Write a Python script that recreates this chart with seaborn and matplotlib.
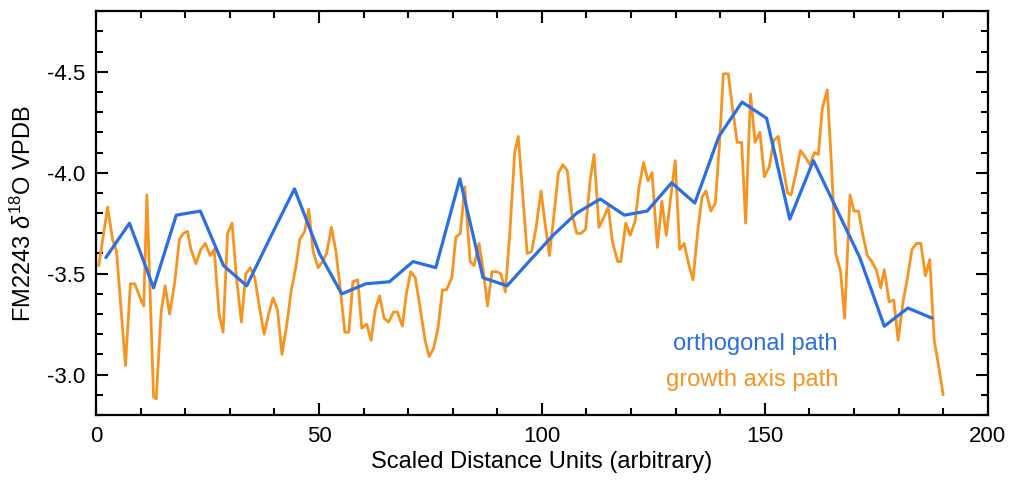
import numpy as np
import pandas as pd
import matplotlib
matplotlib.use("Agg")
import matplotlib.pyplot as plt
from matplotlib.ticker import MultipleLocator
import seaborn as sns

# Orthogonal transect (coarse sampling)
ortho_x = [2.2, 7.5, 12.9, 18.0, 23.4, 28.6, 33.8, 39.1, 44.5, 50.1, 55.1, 60.5,
           65.8, 71.1, 76.2, 81.6, 86.8, 92.2, 97.3, 102.5, 107.8, 113.1, 118.5,
           123.6, 129.1, 134.3, 139.7, 144.9, 150.4, 155.6, 160.9, 166.1, 171.3,
           176.8, 182.1, 187.5]
ortho_d18o = [-3.58, -3.75, -3.43, -3.79, -3.81, -3.54, -3.44, -3.68, -3.92, -3.60,
              -3.40, -3.45, -3.46, -3.56, -3.53, -3.97, -3.48, -3.44, -3.565, -3.69,
              -3.80, -3.87, -3.79, -3.81, -3.95, -3.85, -4.18, -4.35, -4.27, -3.77,
              -4.06, -3.82, -3.58, -3.24, -3.33, -3.28]

# Growth-axis transect (fine sampling)
growth_x = [0.6, 2.6, 3.7, 4.6, 6.6, 7.7, 8.7, 9.7, 10.7, 11.4, 12.9, 13.5, 14.6,
            15.5, 16.5, 17.6, 18.7, 19.6, 20.5, 21.3, 22.4, 23.5, 24.5, 25.6, 26.5,
            27.6, 28.5, 29.5, 30.5, 31.5, 32.6, 33.6, 34.6, 35.6, 36.6, 37.7, 38.7,
            39.7, 40.7, 41.7, 42.8, 43.8, 44.8, 45.7, 46.8, 47.7, 48.7, 49.8, 50.8,
            51.7, 52.8, 53.8, 54.8, 55.8, 56.7, 57.6, 58.7, 59.6, 60.7, 61.7, 62.6,
            63.6, 64.6, 65.6, 66.7, 67.6, 68.7, 69.6, 70.6, 71.6, 72.7, 73.8, 74.7,
            75.7, 76.7, 77.7, 78.6, 79.8, 80.7, 81.7, 82.7, 83.9, 84.8, 85.9, 86.9,
            87.8, 88.8, 89.8, 90.8, 91.8, 92.8, 93.9, 94.7, 95.7, 96.7, 97.7, 98.7,
            99.8, 100.7, 101.7, 102.8, 103.7, 104.7, 105.7, 106.7, 107.8, 108.8,
            109.8, 110.8, 111.7, 112.8, 113.9, 114.9, 115.8, 117.0, 117.7, 118.8,
            119.8, 120.9, 121.8, 122.8, 123.8, 124.7, 125.9, 126.9, 127.9, 128.9,
            129.9, 130.9, 131.9, 132.9, 133.9, 134.9, 135.9, 136.8, 137.9, 138.9,
            139.8, 140.7, 141.8, 142.7, 143.8, 144.8, 145.7, 146.8, 147.8, 148.9,
            149.9, 151.0, 152.0, 153.0, 154.0, 155.1, 155.9, 156.9, 158.0, 159.0,
            160.1, 161.1, 162.0, 162.9, 164.0, 164.9, 165.9, 167.0, 167.9, 169.1,
            170.0, 171.0, 172.0, 173.0, 174.0, 175.0, 176.0, 176.8, 177.9, 178.9,
            179.9, 181.0, 182.0, 183.0, 184.0, 185.0, 186.0, 187.0, 188.0, 189.0,
            190.0]
growth_d18o = [-3.54, -3.83, -3.67, -3.61, -3.045, -3.45, -3.45, -3.39, -3.34, -3.89,
               -2.89, -2.88, -3.31, -3.44, -3.30, -3.45, -3.67, -3.70, -3.71, -3.62,
               -3.55, -3.62, -3.65, -3.59, -3.62, -3.30, -3.21, -3.70, -3.75, -3.48,
               -3.26, -3.50, -3.53, -3.48, -3.34, -3.20, -3.30, -3.38, -3.32, -3.10,
               -3.25, -3.42, -3.53, -3.67, -3.71, -3.82, -3.61, -3.53, -3.56, -3.60,
               -3.73, -3.61, -3.42, -3.21, -3.21, -3.46, -3.47, -3.23, -3.25, -3.17,
               -3.32, -3.39, -3.28, -3.26, -3.31, -3.31, -3.24, -3.40, -3.51, -3.48,
               -3.33, -3.17, -3.09, -3.13, -3.23, -3.42, -3.42, -3.48, -3.68, -3.70,
               -3.93, -3.56, -3.54, -3.65, -3.51, -3.34, -3.51, -3.51, -3.50, -3.41,
               -3.70, -4.10, -4.18, -3.89, -3.60, -3.61, -3.73, -3.91, -3.75, -3.59,
               -3.81, -4.00, -4.04, -4.01, -3.80, -3.70, -3.70, -3.72, -3.96, -4.09,
               -3.73, -3.78, -3.83, -3.66, -3.56, -3.56, -3.75, -3.69, -3.76, -3.93,
               -4.05, -3.96, -4.00, -3.63, -3.86, -3.69, -3.88, -4.06, -3.62, -3.65,
               -3.55, -3.47, -3.70, -3.88, -3.91, -3.81, -3.85, -4.13, -4.49, -4.49,
               -4.33, -4.15, -4.15, -3.75, -4.39, -4.15, -4.20, -3.98, -4.03, -4.16,
               -4.18, -4.04, -3.90, -3.89, -3.99, -4.11, -4.08, -4.04, -4.10, -4.09,
               -4.32, -4.41, -4.06, -3.60, -3.51, -3.28, -3.89, -3.81, -3.81, -3.69,
               -3.59, -3.56, -3.52, -3.43, -3.52, -3.36, -3.37, -3.17, -3.36, -3.48,
               -3.62, -3.65, -3.65, -3.49, -3.57, -3.17, -3.04, -2.90]

ORTHO_COLOR = "#2b6fe4"
GROWTH_COLOR = "#f7931e"

sns.set_style("ticks")
plt.rcParams["font.family"] = ["Liberation Sans", "DejaVu Sans"]
plt.rcParams["axes.unicode_minus"] = False
plt.rcParams["axes.labelcolor"] = "black"
plt.rcParams["text.color"] = "black"
plt.rcParams["mathtext.fontset"] = "custom"
plt.rcParams["mathtext.rm"] = "Liberation Sans"
plt.rcParams["mathtext.it"] = "Liberation Sans:italic"

growth = pd.DataFrame({"x": growth_x, "d18o": growth_d18o})
ortho = pd.DataFrame({"x": ortho_x, "d18o": ortho_d18o})

fig = plt.figure(figsize=(10.11, 4.86), dpi=100)
ax = fig.add_axes([0.095, 0.146, 0.882, 0.831])

sns.lineplot(data=growth, x="x", y="d18o", ax=ax, color=GROWTH_COLOR,
             linewidth=2.0, sort=False, estimator=None)
sns.lineplot(data=ortho, x="x", y="d18o", ax=ax, color=ORTHO_COLOR,
             linewidth=2.3, sort=False, estimator=None)

ax.set_xlim(0, 200)
ax.set_ylim(-2.8, -4.8)

ax.xaxis.set_major_locator(MultipleLocator(50))
ax.xaxis.set_minor_locator(MultipleLocator(10))
ax.yaxis.set_major_locator(MultipleLocator(0.5))
ax.yaxis.set_minor_locator(MultipleLocator(0.1))
ax.yaxis.set_major_formatter(matplotlib.ticker.FormatStrFormatter("%.1f"))

ax.tick_params(which="both", direction="in", top=True, right=True,
               width=1.5, color="black", labelsize=16, labelcolor="black")
ax.tick_params(which="major", length=8.5, pad=8)
ax.tick_params(which="minor", length=5)
for spine in ax.spines.values():
    spine.set_visible(True)
    spine.set_linewidth(1.6)
    spine.set_color("black")

ax.set_xlabel("Scaled Distance Units (arbitrary)", fontsize=17, labelpad=3,
              color="black")
ax.set_ylabel(r"FM2243 $\delta^{18}$O VPDB", fontsize=17, labelpad=8,
              color="black")

ax.text(0.832, 0.177, "orthogonal path", transform=ax.transAxes, ha="right",
        va="center", fontsize=17, color=ORTHO_COLOR)
ax.text(0.832, 0.087, "growth axis path", transform=ax.transAxes, ha="right",
        va="center", fontsize=17, color=GROWTH_COLOR)

fig.savefig("out.png", dpi=100)
